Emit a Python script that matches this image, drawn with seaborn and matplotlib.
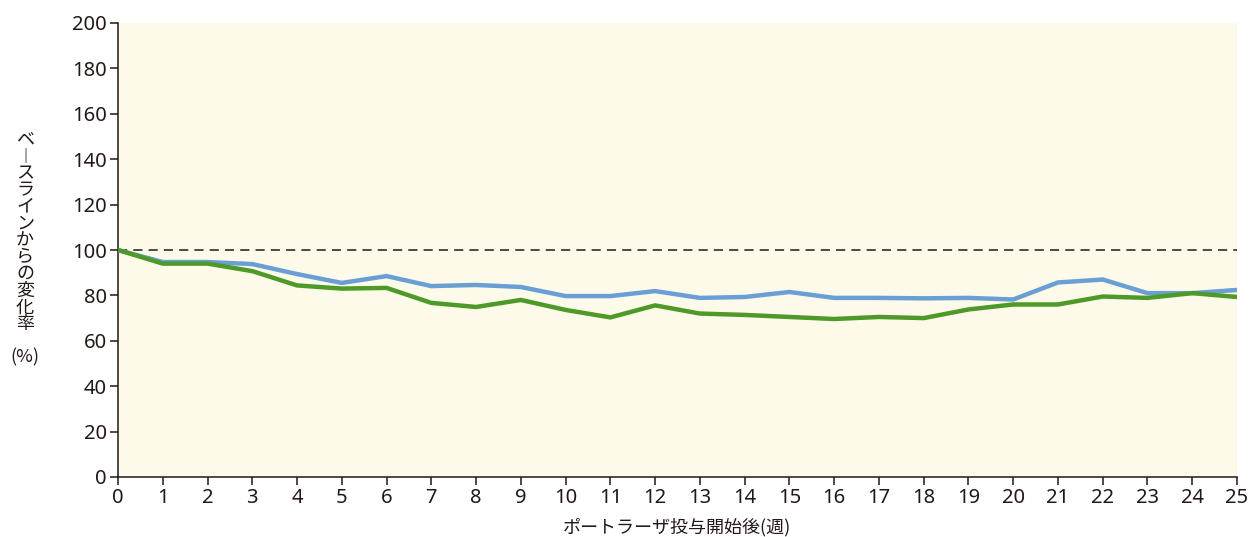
import numpy as np
import pandas as pd
import matplotlib
matplotlib.use("Agg")
import matplotlib.pyplot as plt
import seaborn as sns

# data
weeks = list(range(26))
blue_values = [100, 94.7, 94.7, 93.8, 89.4, 85.5, 88.5, 84.1, 84.6, 83.7,
               79.7, 79.7, 81.9, 78.9, 79.3, 81.5, 78.9, 78.9, 78.7, 78.9,
               78.2, 85.7, 87.0, 81.0, 81.0, 82.4]
green_values = [100, 94.0, 94.0, 90.7, 84.4, 83.0, 83.3, 76.7, 74.9, 78.0,
                73.6, 70.3, 75.6, 72.0, 71.4, 70.5, 69.6, 70.5, 70.0, 73.8,
                76.0, 76.0, 79.5, 78.9, 81.0, 79.3]
y_ticks = list(range(0, 201, 20))
baseline = 100

x_label = "ポートラーザ投与開始後(週)"
y_label_chars = ["ベ", "︱", "ス", "ラ", "イ", "ン", "か", "ら", "の", "変", "化", "率"]

sns.set_theme(style="ticks")
plt.rcParams["font.family"] = ["Noto Sans CJK JP", "DejaVu Sans"]

df = pd.DataFrame({
    "week": weeks * 2,
    "value": blue_values + green_values,
    "group": ["blue"] * len(weeks) + ["green"] * len(weeks),
})

fig = plt.figure(figsize=(12.51, 5.37), dpi=100)
ax = fig.add_axes([118 / 1251, 1 - 477 / 537, (1237 - 118) / 1251, (477 - 23) / 537])
ax.set_facecolor("#FEFAEA")

ax.axhline(baseline, color="#231815", lw=1.1, ls=(0, (6, 4)), zorder=1)
sns.lineplot(data=df, x="week", y="value", hue="group",
             palette={"blue": "#6A9FD6", "green": "#4D9A28"},
             hue_order=["blue", "green"], lw=3.2, legend=False, ax=ax, zorder=3)

ax.set_xlim(0, 25)
ax.set_ylim(0, 200)
ax.set_xticks(weeks)
ax.set_yticks(y_ticks)
ax.tick_params(axis="both", labelsize=14.5, length=6, width=1.1,
               color="#231815", labelcolor="#231815", direction="out", pad=2)
for lab in ax.get_xticklabels() + ax.get_yticklabels():
    lab.set_fontfamily(["Noto Sans", "DejaVu Sans"])
ax.set_xlabel("")
ax.set_ylabel("")
for s in ["top", "right"]:
    ax.spines[s].set_visible(False)
for s in ["left", "bottom"]:
    ax.spines[s].set_color("#231815")
    ax.spines[s].set_linewidth(1.1)

fig.text(677 / 1251, 1 - 527 / 537, x_label, ha="center", va="center",
         fontsize=13, color="#231815")
fig.text(25 / 1251, 1 - 232 / 537, "\n".join(y_label_chars), ha="center", va="center",
         fontsize=13, color="#231815", linespacing=0.91)
fig.text(25 / 1251, 1 - 357 / 537, "(%)", ha="center", va="center",
         fontsize=13, color="#231815")

fig.savefig("out.png", dpi=100)
